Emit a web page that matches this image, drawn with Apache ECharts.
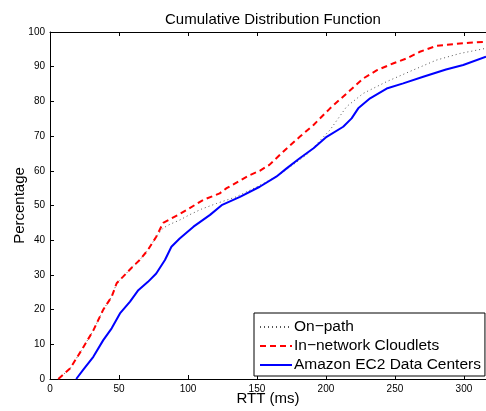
<!DOCTYPE html>
<html>
<head>
<meta charset="utf-8">
<script src="https://cdn.jsdelivr.net/npm/echarts@6/dist/echarts.min.js"></script>
<style>html,body{margin:0;padding:0;background:#fff}#c{width:486px;height:411px}</style>
</head>
<body>
<div id="c"></div>
<script>
var seriesNames = ['On\u2212path', 'In\u2212network Cloudlets', 'Amazon EC2 Data Centers'];

var onPathX = [6,14.5,23,31.4,38.6,44.7,48.3,53,59,65,71,77,82,87,94,101,110,120.8,135,150,164,176,186,203,215,227,244,263,280,297,316];
var onPathY = [0,3,8.4,14,20,23.7,27.6,29.5,32,34.3,37.2,41,43.5,44.6,45.8,47.3,49,50.6,52.5,55.4,58.3,61.7,64.6,71.8,78.5,82.3,85.7,89,91.9,93.8,95.3];

var cloudletX = [6,14.5,23,31.4,38.6,44.7,48.3,53,59,65,71,77,82,93,99,111,123,128,145,152,159,169,181,191,203,215,227,237,249,258.5,268,280,292,304,316];
var cloudletY = [0,3,8.4,14,20,23.7,27.6,29.5,32,34.3,37.2,41,45,47.3,48.7,51.6,53.5,55,58.8,60,61.7,65.5,69.8,73.2,78,82.3,86.6,89,91,92.4,94.3,96,96.5,96.9,97.2];

var ec2X = [19,24,31.4,38.6,44.7,50.7,58,64,71,77,83.3,88,94,104,116,124.4,137.7,152,164,171.5,181,191,200.5,212.5,218.6,223.4,232,244,256,270.5,287,299.5,316];
var ec2Y = [0,2.6,6.4,11.2,14.6,18.9,22.3,25.6,28,30.4,34.3,38.1,40.5,43.9,47.3,50.1,52.5,55.4,58.3,60.7,63.6,66.5,69.8,72.7,75.1,78,80.9,83.7,85.2,87.1,89.2,90.5,92.9];

function pairs(xs, ys) { return xs.map(function (x, i) { return [x, ys[i]]; }); }

var FONT = 'Liberation Sans, Arial, Helvetica, sans-serif';
var chart = echarts.init(document.getElementById('c'), null, {renderer: 'canvas'});
chart.setOption({
  animation: false,
  backgroundColor: '#fff',
  title: {
    text: 'Cumulative Distribution Function',
    left: 268, top: 7, textAlign: 'center',
    textStyle: {fontFamily: FONT, fontSize: 15, fontWeight: 'normal', color: '#000'}
  },
  grid: {left: 50, top: 32, right: 0, bottom: 32, containLabel: false, outerBoundsMode: 'none'},
  legend: {
    orient: 'vertical', left: 254, top: 313,
    backgroundColor: '#fff', borderColor: '#000', borderWidth: 1,
    padding: [6, 4, 3, 5], itemGap: 3, itemWidth: 32, itemHeight: 14,
    itemStyle: {color: 'transparent', borderColor: 'transparent', borderWidth: 0, opacity: 0},
    textStyle: {fontFamily: FONT, fontSize: 15.5, color: '#000', padding: [0, 0, 0, -3]},
    data: seriesNames
  },
  xAxis: [{
    type: 'value', min: 0, max: 316, interval: 50,
    name: 'RTT (ms)', nameLocation: 'middle', nameGap: 12, nameMoveOverlap: false,
    nameTextStyle: {fontFamily: FONT, fontSize: 15, color: '#000'},
    axisLine: {show: true, lineStyle: {color: '#000', width: 1}},
    axisTick: {show: true, inside: true, length: 4, lineStyle: {color: '#000'}},
    axisLabel: {fontFamily: FONT, fontSize: 10, color: '#000', margin: 5, showMaxLabel: false},
    splitLine: {show: false}
  }, {
    type: 'value', position: 'top', min: 0, max: 316, interval: 50,
    axisLine: {show: true, lineStyle: {color: '#000', width: 1}},
    axisTick: {show: true, inside: true, length: 4, lineStyle: {color: '#000'}},
    axisLabel: {show: false}, splitLine: {show: false}
  }],
  yAxis: [{
    type: 'value', min: 0, max: 100, interval: 10,
    name: 'Percentage', nameLocation: 'middle', nameGap: 23, nameRotate: 90, nameMoveOverlap: false,
    nameTextStyle: {fontFamily: FONT, fontSize: 15, color: '#000'},
    axisLine: {show: true, lineStyle: {color: '#000', width: 1}},
    axisTick: {show: true, inside: true, length: 4, lineStyle: {color: '#000'}},
    axisLabel: {fontFamily: FONT, fontSize: 10, color: '#000', margin: 5},
    splitLine: {show: false}
  }],
  series: [{
    name: seriesNames[0], type: 'line', symbol: 'none', smooth: false,
    data: pairs(onPathX, onPathY),
    lineStyle: {color: '#555', width: 1, type: [1, 3]},
    itemStyle: {color: '#555'}
  }, {
    name: seriesNames[1], type: 'line', symbol: 'none',
    data: pairs(cloudletX, cloudletY),
    lineStyle: {color: '#ff0000', width: 2, type: [6, 4]},
    itemStyle: {color: '#ff0000'}
  }, {
    name: seriesNames[2], type: 'line', symbol: 'none',
    data: pairs(ec2X, ec2Y),
    lineStyle: {color: '#0000ff', width: 2},
    itemStyle: {color: '#0000ff'}
  }]
});
</script>
</body>
</html>
